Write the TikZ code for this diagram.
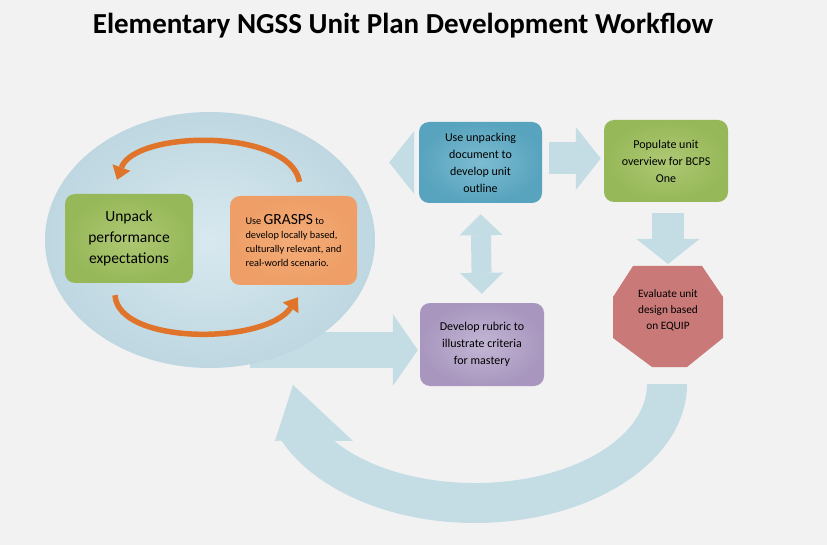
\documentclass[tikz,border=0pt]{standalone}
\usepackage{fontspec}
\setmainfont{Carlito}
\usetikzlibrary{arrows.meta,positioning,calc,shapes.geometric}

\definecolor{bgcol}{RGB}{242,242,242}
\definecolor{loopin}{RGB}{216,233,239}
\definecolor{loopout}{RGB}{190,215,225}
\definecolor{bandcol}{RGB}{196,220,228}
\definecolor{greenin}{RGB}{174,200,116}
\definecolor{greenout}{RGB}{150,184,88}
\definecolor{orangein}{RGB}{244,172,120}
\definecolor{orangeout}{RGB}{238,158,102}
\definecolor{bluein}{RGB}{124,188,209}
\definecolor{blueout}{RGB}{88,163,190}
\definecolor{purplein}{RGB}{194,182,212}
\definecolor{purpleout}{RGB}{168,150,190}
\definecolor{octcol}{RGB}{201,122,120}
\definecolor{arcorange}{RGB}{224,116,42}

\begin{document}
\begin{tikzpicture}[x=1pt, y=-1pt,
    stepbox/.style={rounded corners=10pt, align=center, inner sep=2pt, text=black, font=\fontsize{12}{17}\selectfont},
    greenbox/.style={stepbox, shade, inner color=greenin, outer color=greenout},
    bluebox/.style={stepbox, shade, inner color=bluein, outer color=blueout},
    purplebox/.style={stepbox, shade, inner color=purplein, outer color=purpleout},
    orangebox/.style={stepbox, shade, inner color=orangein, outer color=orangeout},
    barrow/.style={bandcol, line width=32pt, -{Triangle[width=63pt,length=25pt,line width=0pt]}},
    darrow/.style={bandcol, line width=20pt, {Triangle[width=43pt,length=21pt,line width=0pt]}-{Triangle[width=43pt,length=21pt,line width=0pt]}},
    tailarrow/.style={bandcol, line width=36pt, -{Triangle[width=72pt,length=25pt,line width=0pt]}},
    orangearc/.style={arcorange, line width=5.5pt, -{Triangle[width=19pt,length=13pt,line width=0pt]}}
]
\fill[bgcol] (0,0) rectangle (827,545);
\useasboundingbox (0,0) rectangle (827,545);

\node[font=\fontsize{29}{32}\selectfont\bfseries] (title) at (403,26) {Elementary NGSS Unit Plan Development Workflow};

% loop with its tail
\coordinate (tail) at (250,350);
\node[purplebox, minimum width=124, minimum height=83] (rubric) at (482,344.5) {Develop rubric to\\illustrate criteria\\for mastery};
\draw[tailarrow, shorten >=2pt] (tail) -- ([yshift=-5.5pt]rubric.west);
\node[ellipse, inner sep=0, minimum width=330, minimum height=256, shade, inner color=loopin, outer color=loopout] (loop) at (210,240) {};

\node[greenbox, minimum width=128, minimum height=89, font=\fontsize{15.5}{21}\selectfont] (unpack) at (129,238.5) {Unpack\\performance\\expectations};
\node[orangebox, minimum width=127, minimum height=89, align=left, font=\fontsize{10.3}{14}\selectfont] (grasps) at (293.5,240.5) {Use {\fontsize{15.5}{15}\selectfont GRASPS} to\\develop locally based,\\culturally relevant, and\\real-world scenario.};

\draw[orangearc] ([shift={(6,-14)}]grasps.north) .. controls (290,128) and (135,130) .. ([shift={(-12,-14)}]unpack.north);
\draw[orangearc] ([shift={(-14,12)}]unpack.south) .. controls (118,345) and (265,345) .. ([shift={(4.5,12)}]grasps.south);

% right side
\node[bluebox, minimum width=123, minimum height=81] (unpacking) at (480.5,162.5) {Use unpacking\\document to\\develop unit\\outline};
\node[greenbox, minimum width=124, minimum height=82] (populate) at (666,161) {Populate unit\\overview for BCPS\\One};
\fill[octcol] (633,266) -- (702,266) -- (723,297) -- (723,338) -- (687,367) -- (652,367) -- (613,338) -- (613,297) -- cycle;
\coordinate (octtop) at (668,266);
\node[align=center, font=\fontsize{11.3}{16}\selectfont] (evaluate) at (668,310) {Evaluate unit\\design based\\on EQUIP};

\draw[barrow, shorten <=7pt, shorten >=14pt] (unpacking.west) -- (unpacking.west -| loop.east);
\draw[barrow, shorten <=7pt, shorten >=3pt] ([yshift=4pt]unpacking.east) -- ([yshift=4pt]unpacking.east -| populate.west);
\draw[barrow, shorten <=11pt, shorten >=2pt] (populate.south -| octtop) -- (octtop);
\draw[darrow, shorten <=11pt, shorten >=9pt] (unpacking.south) -- (rubric.north);

% back to the loop
\fill[bandcol] (687,384) arc[start angle=0, end angle=156, x radius=212, y radius=139]
    -- (275,441) -- (293,385) -- (353,441) -- (334.1,440.8)
    arc[start angle=145, end angle=0, x radius=172, y radius=99] -- cycle;
\end{tikzpicture}
\end{document}
